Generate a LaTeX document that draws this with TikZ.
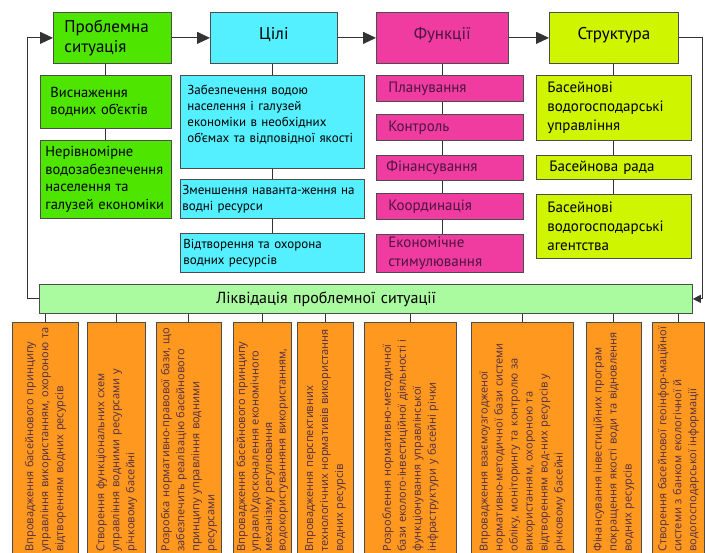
\documentclass[tikz,border=0pt]{standalone}
\usepackage{fontspec}
\setmainfont{PT Sans}
\newfontfamily\measfont{Open Sans}
\usetikzlibrary{arrows.meta,positioning}

\definecolor{probgreen}{RGB}{78,230,0}
\definecolor{goalcyan}{RGB}{85,240,255}
\definecolor{funcpink}{RGB}{240,60,160}
\definecolor{funcink}{RGB}{75,20,65}
\definecolor{structlime}{RGB}{208,245,0}
\definecolor{liqgreen}{RGB}{170,250,160}
\definecolor{measorange}{RGB}{255,152,30}
\definecolor{measink}{RGB}{80,45,70}

\begin{document}
\begin{tikzpicture}[
    x=1pt, y=-1pt,
    box/.style={
        rectangle,
        draw=black!70,
        line width=0.8pt,
        anchor=north west,
        align=left,
        inner xsep=8pt,
        inner ysep=1pt
    },
    header/.style={
        box,
        minimum height=51pt,
        font=\fontsize{17}{20}\selectfont
    },
    single/.style={
        align=center,
        text height=12pt,
        text depth=9pt
    },
    problem/.style={
        box,
        fill=probgreen,
        font=\fontsize{14.5}{17.5}\selectfont
    },
    goal/.style={
        box,
        fill=goalcyan,
        inner xsep=6pt,
        font=\fontsize{13}{16}\selectfont
    },
    task/.style={
        box,
        fill=funcpink,
        text=funcink,
        minimum width=147pt,
        text width=123pt,
        inner xsep=12pt,
        font=\fontsize{15}{19}\selectfont
    },
    body/.style={
        box,
        fill=structlime,
        minimum width=155pt,
        text width=133pt,
        inner xsep=11pt,
        font=\fontsize{15}{19}\selectfont
    },
    measure/.style={
        rectangle,
        draw=black!70,
        line width=0.8pt,
        fill=measorange,
        text=measink,
        rotate=90,
        anchor=north west,
        align=left,
        minimum width=233pt,
        text width=225pt,
        inner xsep=4pt,
        font=\measfont\fontsize{11}{15}\selectfont
    },
    link/.style={draw=black!80, line width=0.9pt},
    modelarrow/.style={link, -{Stealth[length=13pt,width=12pt,inset=0pt]}},
    backarrow/.style={link, -{Stealth[length=8pt,width=8pt,inset=0pt]}}
]
\useasboundingbox (0,0) rectangle (705,553);
\clip (0,0) rectangle (705,553);

\node (prob) [header, fill=probgreen, minimum width=118pt, text width=96pt, inner xsep=11pt] at (53,12) {Проблемна\\ситуація};
\node (goals) [header, single, fill=goalcyan, minimum width=127pt] at (210,12) {Цілі};
\node (func) [header, single, fill=funcpink, text=funcink, minimum width=132pt] at (376,12) {Функції};
\node (struct) [header, single, fill=structlime, minimum width=129pt] at (549,12) {Структура};

\node (c1a) [problem, minimum width=131pt, minimum height=53pt, text width=111pt, inner xsep=10pt] at (40,75) {Виснаження\\водних об’єктів};
\node (c1b) [problem, minimum width=131pt, minimum height=78pt, text width=121pt, inner xsep=5pt] at (40,140) {Нерівномірне\\водозабезпечення\\населення та\\галузей економіки};

\node (c2a) [goal, minimum width=184pt, minimum height=93pt, text width=176pt, inner xsep=4pt, text depth=64pt] at (180,75) {\hspace*{3pt}Забезпечення водою\\\hspace*{3pt}населення і галузей\\\hspace*{3pt}економіки в необхідних\\\hspace*{3pt}об’ємах та відповідної якості};
\node (c2b) [goal, minimum width=184pt, minimum height=39pt, text width=180pt, inner xsep=2pt] at (180,179) {Зменшення наванта-ження на\\водні ресурси};
\node (c2c) [goal, minimum width=184pt, minimum height=39pt, text width=178pt, inner xsep=3pt] at (180,233) {Відтворення та охорона\\водних ресурсів};

\node (f1) [task, minimum height=26pt] at (376,75) {Планування};
\node (f2) [task, minimum height=26pt] at (376,114) {Контроль};
\node (f3) [task, minimum height=25pt, inner xsep=10pt, text width=127pt] at (376,155) {Фінансування};
\node (f4) [task, minimum height=26pt] at (376,193) {Координація};
\node (f5) [task, minimum height=38pt, inner ysep=0pt] at (376,234) {Економічне\\стимулювання};

\node (s1) [body, minimum height=65pt] at (536,75) {Басейнові\\водогосподарські\\управління};
\node (s2) [body, minimum height=24pt, inner xsep=13pt, text width=129pt] at (536,155) {Басейнова рада};
\node (s3) [body, minimum height=64pt] at (536,194) {Басейнові\\водогосподарські\\агентства};

\node (liq) [box, fill=liqgreen, minimum width=653pt, minimum height=29pt, text width=653pt, inner xsep=0pt, font=\fontsize{16}{19}\selectfont] at (39,284) {\hspace*{177pt}Ліквідація проблемної ситуації};

\node (m1) [measure, minimum height=66pt] at (12,556) {Впровадження басейнового принципу\\управління використанням, охороною та\\відтворенням водних ресурсів};
\node (m2) [measure, minimum height=58pt] at (87,556) {Створення функціональних схем\\управління водними ресурсами у\\річковому басейні};
\node (m3) [measure, minimum height=65pt] at (156,556) {Розробка нормативно-правової бази, що\\забезпечить реалізацію басейнового\\принципу управління водними\\ресурсами};
\node (m4) [measure, minimum height=54pt, font=\measfont\fontsize{11}{13.5}\selectfont] at (233,556) {Впровадження басейнового принципу\\управліУдосконалення економічного\\механізму регулювання\\водокористуванняня використанням,};
\node (m5) [measure, minimum height=56pt] at (297,556) {Впровадження перспективних\\технологічних нормативів використання\\водних ресурсів};
\node (m6) [measure, minimum height=92pt] at (364,556) {Розроблення нормативно-методичної\\бази еколого-інвестиційної діяльності і\\функціонування управлінської\\інфраструктури у басейні річки};
\node (m7) [measure, minimum height=102pt] at (471,556) {Впровадження взаємоузгодженої\\нормативно-методичної бази системи\\обліку, моніторингу та контролю за\\використанням, охороною та\\відтворенням вод-них ресурсів у\\річковому басейні};
\node (m8) [measure, minimum height=55pt] at (586,556) {Фінансування інвестиційних програм\\покращення якості води та відновлення\\водних ресурсів};
\node (m9) [measure, minimum height=52pt] at (652,556) {Створення басейнової геоінфор-маційної\\системи з банком екологічної й\\водогосподарської інформації};

\draw [modelarrow] (prob) -- (goals);
\draw [modelarrow] (goals) -- (func);
\draw [modelarrow] (func) -- (struct);
\draw [backarrow] (struct.east) -- ++(24,0) |- (liq.east);
\draw [modelarrow] (liq.west) -- ++(-12,0) |- (prob.west);

\draw [link] (c1a.north |- prob.south) -- (c1a.north);
\draw [link] (c1a) -- (c1b);
\draw [link] (c2a.north |- goals.south) -- (c2a.north);
\draw [link] (c2a) -- (c2b);
\draw [link] (c2b) -- (c2c);
\draw [link] (func.south) -- (func.south |- f1.north);
\foreach \a/\b in {f1/f2,f2/f3,f3/f4,f4/f5}
    \draw [link] (func.south |- \a.south) -- (func.south |- \b.north);
\draw [link] (struct) -- (s1);
\draw [link] (s1) -- (s2);
\draw [link] (s2) -- (s3);
\foreach \m in {m1,m2,m3,m4,m5,m6,m7,m8,m9}
    \draw [link] (\m.east |- liq.south) -- (\m.east);
\end{tikzpicture}
\end{document}
